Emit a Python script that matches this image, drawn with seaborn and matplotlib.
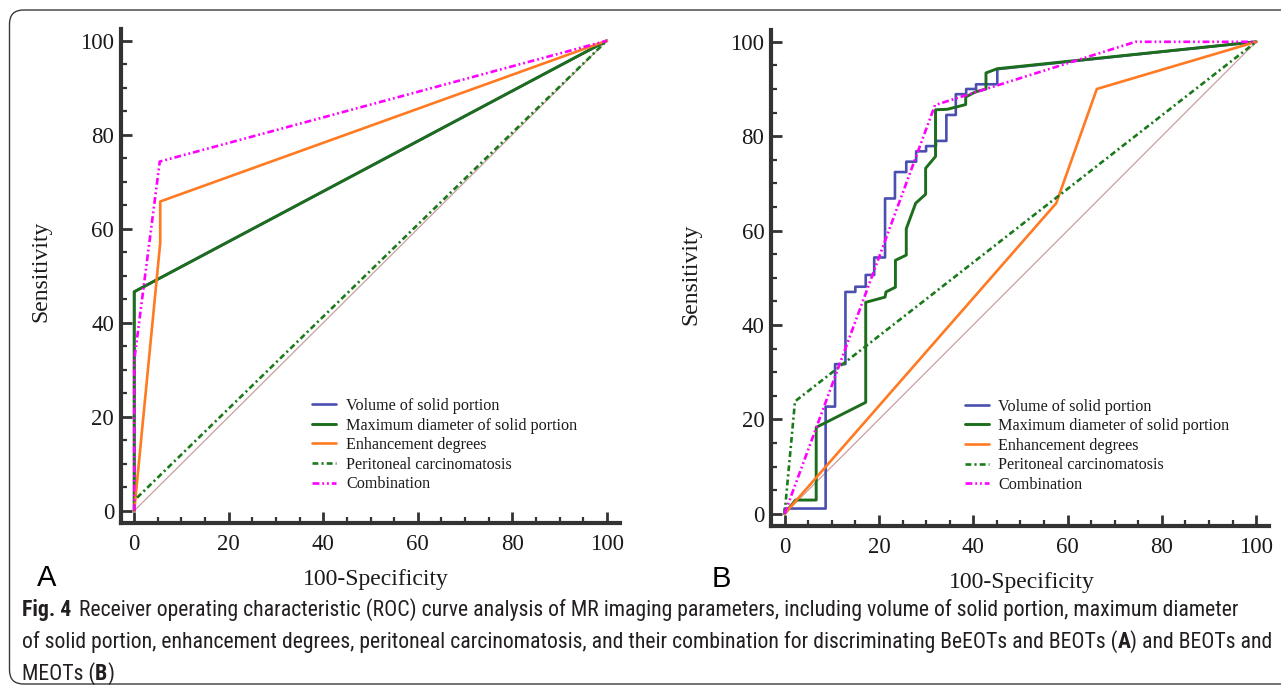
import numpy as np
import pandas as pd
import matplotlib
matplotlib.use("Agg")
import matplotlib.pyplot as plt
import seaborn as sns
from matplotlib.patches import FancyBboxPatch
from matplotlib.transforms import IdentityTransform
from matplotlib.ticker import MultipleLocator
from matplotlib import font_manager

# ---------------- data ----------------
series_names = ["Volume of solid portion", "Maximum diameter of solid portion",
                "Enhancement degrees", "Peritoneal carcinomatosis", "Combination"]

# Panel A
a_volume_x = [0, 0, 100]
a_volume_y = [0, 46.6, 100]
a_diameter_x = [0, 0, 100]
a_diameter_y = [0, 46.6, 100]
a_enh_x = [0, 5.5, 5.5, 100]
a_enh_y = [0, 57.0, 65.8, 100]
a_perit_x = [0, 0, 100]
a_perit_y = [0, 2.2, 100]
a_comb_x = [0, 0, 5.4, 100]
a_comb_y = [0, 32.0, 74.3, 100]

# Panel B
b_volume_x = [0, 0, 8.7, 8.7, 10.7, 10.7, 12.9, 12.9, 15.0, 15.0, 17.2, 17.2, 19.0, 19.0,
              21.3, 21.3, 23.4, 23.4, 25.8, 25.8, 27.9, 27.9, 30.0, 30.0, 32.1, 32.1,
              34.3, 34.3, 36.3, 36.3, 38.5, 38.5, 40.6, 40.6, 45.1, 45.1, 100]
b_volume_y = [0, 1.1, 1.1, 22.7, 22.7, 31.7, 31.7, 47.0, 47.0, 48.1, 48.1, 50.6, 50.6, 54.3,
              54.3, 66.8, 66.8, 72.4, 72.4, 74.6, 74.6, 76.8, 76.8, 77.9, 77.9, 79.0,
              79.0, 84.5, 84.5, 88.9, 88.9, 90.0, 90.0, 91.0, 91.0, 94.2, 100]
b_diameter_x = [0, 2.3, 6.7, 6.7, 17.2, 17.2, 21.3, 21.5, 23.5, 23.5, 25.8, 25.8, 27.8,
                29.9, 29.9, 32.0, 32.0, 34.5, 38.4, 38.4, 40.5, 42.7, 42.7, 45.1, 100]
b_diameter_y = [0, 2.9, 2.9, 18.3, 23.6, 44.8, 45.9, 47.0, 48.0, 53.7, 54.8, 60.4, 65.8,
                67.7, 73.2, 75.7, 85.6, 85.7, 86.7, 88.3, 89.4, 90.0, 93.4, 94.3, 100]
b_enh_x = [0, 57.6, 66.2, 100]
b_enh_y = [0, 65.8, 90.0, 100]
b_perit_x = [0, 2.2, 100]
b_perit_y = [0, 23.8, 100]
b_comb_x = [0, 31.9, 74.4, 100]
b_comb_y = [0, 86.6, 100, 100]

ref_x = [0, 100]
ref_y = [0, 100]

x_ticks = [0, 20, 40, 60, 80, 100]
y_ticks = [0, 20, 40, 60, 80, 100]

# ---------------- style ----------------
sns.set_theme(style="ticks")
SERIF = ["Liberation Serif", "DejaVu Serif"]
plt.rcParams["font.family"] = SERIF
plt.rcParams["font.serif"] = SERIF

W, H = 1281, 687
fig = plt.figure(figsize=(W / 100, H / 100), dpi=100)
fig.patch.set_facecolor("white")

names = {f.name for f in font_manager.fontManager.ttflist}
cap_font = "Liberation Sans"
for cand in ["Liberation Sans Narrow", "Roboto Condensed", "Open Sans Condensed"]:
    if cand in names:
        cap_font = cand
        break

colors = ["#4a4fb0", "#1c6e1c", "#ff7a21", "#1a7a1a", "#ff00ff"]
styles = [
    dict(lw=1.9),
    dict(lw=2.1),
    dict(lw=1.9),
    dict(lw=1.9, dashes=(2.2, 1.2, 0.8, 1.2)),
    dict(lw=1.9, dashes=(2.6, 1.1, 0.7, 1.1, 0.7, 1.1)),
]
spine_c = "#333333"


def panel(rect, curves, label_letter, letter_px, ylab_xy, xlab_xy, leg_anchor):
    ax = fig.add_axes(rect)
    sns.lineplot(x=ref_x, y=ref_y, ax=ax, color="#c9a0a0", lw=0.9, sort=False,
                 estimator=None, legend=False)
    for i, (xs, ys) in enumerate(curves):
        st = dict(styles[i])
        d = st.pop("dashes", None)
        sns.lineplot(x=xs, y=ys, ax=ax, color=colors[i], sort=False,
                     estimator=None, label=series_names[i], **st)
        ln = ax.get_lines()[-1]
        if d is not None:
            ln.set_dashes(d)
        ln.set_zorder(3 + i)
        if i == 0:
            ln.set_zorder(2.5)
    ax.set_xlim(-2.8, 102.8)
    ax.set_ylim(-2.6, 102.5)
    ax.set_xticks(x_ticks)
    ax.set_yticks(y_ticks)
    ax.xaxis.set_minor_locator(MultipleLocator(5))
    ax.yaxis.set_minor_locator(MultipleLocator(5))
    for s in ["top", "right"]:
        ax.spines[s].set_visible(False)
    for s in ["left", "bottom"]:
        ax.spines[s].set_linewidth(3.0)
        ax.spines[s].set_color(spine_c)
    ax.tick_params(which="major", direction="in", length=8, width=2.0, color=spine_c,
                   labelsize=16.5, labelcolor="#1a1a1a", labelfontfamily="Liberation Serif")
    ax.tick_params(axis="y", which="major", pad=5)
    ax.tick_params(axis="x", which="major", pad=8)
    ax.tick_params(which="minor", direction="in", length=4.5, width=1.6, color=spine_c)
    ax.set_ylabel("Sensitivity", fontsize=17, color="#1a1a1a", va="center", family=SERIF)
    ax.set_xlabel("100-Specificity", fontsize=17, color="#1a1a1a", va="center", family=SERIF)
    ax.yaxis.set_label_coords(*ylab_xy)
    ax.xaxis.set_label_coords(*xlab_xy)
    ax.set_facecolor("white")
    h, l = ax.get_legend_handles_labels()
    ax.legend(h, l, loc="upper left", bbox_to_anchor=leg_anchor, frameon=False,
              prop={"family": SERIF, "size": 11.6},
              handlelength=1.5, handletextpad=0.6, labelspacing=0.22,
              borderpad=0, borderaxespad=0, labelcolor="#1a1a1a")
    fig.text(letter_px[0], H - letter_px[1], label_letter, transform=IdentityTransform(),
             family="Liberation Sans", fontsize=21, ha="center", va="center", color="black")
    return ax


axA = panel([121 / W, 1 - 523 / H, 499 / W, 494 / H],
            [(a_volume_x, a_volume_y), (a_diameter_x, a_diameter_y), (a_enh_x, a_enh_y),
             (a_perit_x, a_perit_y), (a_comb_x, a_comb_y)],
            "A", (47, 578), (-0.160, 0.51), (0.511, -0.115), (0.383, 0.253))
axB = panel([771.4 / W, 1 - 526 / H, 498 / W, 496 / H],
            [(b_volume_x, b_volume_y), (b_diameter_x, b_diameter_y), (b_enh_x, b_enh_y),
             (b_perit_x, b_perit_y), (b_comb_x, b_comb_y)],
            "B", (721, 579), (-0.161, 0.508), (0.502, -0.113), (0.388, 0.257))

# ---------------- border ----------------
border = FancyBboxPatch((9.5, 3), 1320, 674, boxstyle="round,pad=0,rounding_size=14",
                        transform=IdentityTransform(), fill=False, lw=1.0,
                        edgecolor="#3a3a3a", clip_on=False)
fig.patches.append(border)

# ---------------- caption ----------------
cap_color = "#231f20"
renderer = fig.canvas.get_renderer()


def width_of(s, size, weight):
    t = fig.text(0, 0, s, fontsize=size, fontweight=weight, family=cap_font)
    w = t.get_window_extent(renderer).width
    t.remove()
    return w


line1 = [("Fig. 4", "bold"),
         ("Receiver operating characteristic (ROC) curve analysis of MR imaging parameters, "
          "including volume of solid portion, maximum diameter", "normal")]
line2 = [("of solid portion, enhancement degrees, peritoneal carcinomatosis, and their "
          "combination for discriminating BeEOTs and BEOTs (", "normal"),
         ("A", "bold"), (") and BEOTs and", "normal")]
line3 = [("MEOTs (", "normal"), ("B", "bold"), (")", "normal")]

trial = 12.0
w1 = width_of(line1[0][0], trial, "bold") + width_of(line1[1][0], trial, "normal")
sp = width_of("a a", trial, "normal") - width_of("aa", trial, "normal")
target = 1216.0
cap_size = trial * target / (w1 + 1.6 * sp)


def draw_line(segs, x0, ybase, gap_first=0.0):
    x = x0
    for k, (txt, wt) in enumerate(segs):
        t = fig.text(x, H - ybase, txt, transform=IdentityTransform(), fontsize=cap_size,
                     fontweight=wt, family=cap_font, ha="left", va="baseline", color=cap_color)
        bb = t.get_window_extent(renderer)
        x = bb.x1
        if k == 0 and gap_first:
            x += gap_first


sp2 = width_of("a a", cap_size, "normal") - width_of("aa", cap_size, "normal")
draw_line(line1, 22, 616, gap_first=1.6 * sp2)
draw_line(line2, 22, 648)
draw_line(line3, 22, 680)

fig.savefig("out.png", dpi=100, facecolor="white")
